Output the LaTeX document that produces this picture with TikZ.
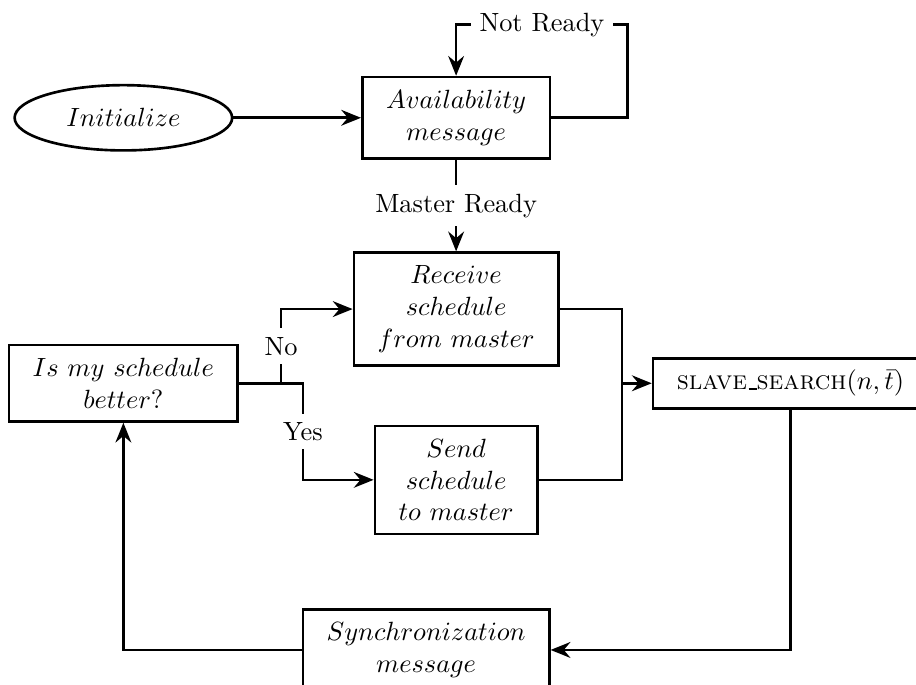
\documentclass[tikz,border=0pt]{standalone}
\usepackage{amsmath}
\usetikzlibrary{positioning,shapes.geometric,arrows.meta}

\newcommand{\lowbar}{\kern.06em\vbox{\hrule height .6pt width .3em}}

\tikzset{
    block/.style={draw, line width=1pt, rectangle, align=center, inner xsep=9pt, inner ysep=5pt},
    start/.style={draw, line width=1pt, ellipse, minimum width=2.9cm, minimum height=0.87cm},
    flow/.style={line width=1pt, -{Stealth[length=7.5pt,width=6pt,inset=2.5pt]}},
    tag/.style={fill=white}
}

\begin{document}
\begin{tikzpicture}
    \useasboundingbox (0,0) rectangle (12.21,-9.12);
    \node [block] (avail) at (6.08,-1.57) {$Availability$\\$message$};
    \node [start, left=1.70cm of avail] (init) {$Initialize$};
    \node [block, below=1.22cm of avail] (receive) {$Receive$\\$schedule$\\$from\ master$};
    \node [block, below=0.77cm of receive] (send) {$Send$\\$schedule$\\$to\ master$};
    \node [block, below=2.56cm of init] (better) {$Is\ my\ schedule$\\$better?$};
    \node [block, right=5.5cm of better, inner ysep=4.5pt] (search) {\textsc{slave}\lowbar\textsc{search}$(n,\bar{t})$};
    \node [block, below=0.97cm of send, xshift=-0.4cm] (sync) {$Synchronization$\\$message$};
    \coordinate (join) at (8.29,0);
    \draw [flow] (init) -- (avail);
    \draw [flow] (avail.east) -- ++(1.02,0) -- ++(0,1.24) -| node [tag, pos=0.25] {Not Ready} (avail.north);
    \draw [flow] (avail) -- node [tag] {Master Ready} (receive);
    \draw [flow] (better.east) -- ++(0.56,0) |- node [tag, pos=0.25] {No} (receive.west);
    \draw [flow] (better.east) -- ++(0.85,0) |- node [tag, pos=0.25] {Yes} (send.west);
    \draw [line width=1pt] (receive.east) -| (join |- search.west);
    \draw [line width=1pt] (send.east) -| (join |- search.west);
    \draw [flow] (join |- search.west) -- (search.west);
    \draw [flow] (search.south) |- (sync.east);
    \draw [flow] (sync.west) -| (better.south);
\end{tikzpicture}
\end{document}
